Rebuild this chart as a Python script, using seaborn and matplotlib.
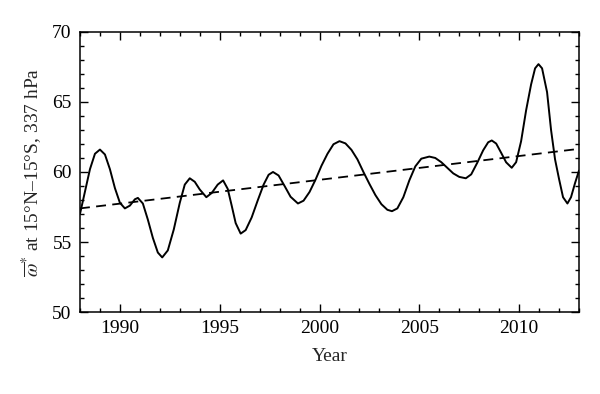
import numpy as np
import pandas as pd
import seaborn as sns
import matplotlib.pyplot as plt
from matplotlib.ticker import MultipleLocator

# values
years = [1988.0, 1988.25, 1988.5, 1988.75, 1989.0, 1989.25, 1989.5, 1989.75, 1990.0, 1990.25,
         1990.5, 1990.75, 1990.9, 1991.15, 1991.4, 1991.65, 1991.9, 1992.12, 1992.4, 1992.7,
         1993.0, 1993.25, 1993.5, 1993.75, 1994.0, 1994.33, 1994.6, 1994.9, 1995.17, 1995.4,
         1995.6, 1995.8, 1996.05, 1996.3, 1996.6, 1996.9, 1997.2, 1997.45, 1997.67, 1997.95,
         1998.25, 1998.55, 1998.92, 1999.2, 1999.5, 1999.8, 2000.1, 2000.4, 2000.7, 2001.0,
         2001.3, 2001.6, 2001.9, 2002.2, 2002.5, 2002.8, 2003.1, 2003.4, 2003.63, 2003.9,
         2004.2, 2004.5, 2004.8, 2005.1, 2005.5, 2005.8, 2006.1, 2006.4, 2006.7, 2007.0,
         2007.33, 2007.6, 2007.9, 2008.2, 2008.45, 2008.63, 2008.85, 2009.1, 2009.35, 2009.63,
         2009.85, 2010.1, 2010.35, 2010.6, 2010.8, 2010.97, 2011.15, 2011.4, 2011.6, 2011.8,
         2012.0, 2012.2, 2012.42, 2012.6, 2012.8, 2013.0]
omega = [57.0, 58.6, 60.2, 61.3, 61.6, 61.25, 60.2, 58.85, 57.8, 57.4,
         57.6, 58.05, 58.15, 57.75, 56.6, 55.3, 54.25, 53.9, 54.4, 55.9,
         57.8, 59.1, 59.55, 59.3, 58.75, 58.2, 58.5, 59.1, 59.4, 58.8,
         57.6, 56.35, 55.6, 55.85, 56.75, 57.95, 59.1, 59.8, 60.0, 59.75,
         59.0, 58.23, 57.75, 57.95, 58.57, 59.45, 60.45, 61.3, 61.98, 62.2,
         62.04, 61.58, 60.9, 60.0, 59.15, 58.35, 57.7, 57.3, 57.2, 57.4,
         58.2, 59.4, 60.4, 60.95, 61.1, 61.0, 60.7, 60.3, 59.9, 59.65,
         59.55, 59.83, 60.65, 61.55, 62.12, 62.25, 62.03, 61.37, 60.69, 60.3,
         60.7, 62.2, 64.4, 66.25, 67.4, 67.7, 67.4, 65.7, 63.0, 60.9,
         59.5, 58.2, 57.75, 58.2, 59.2, 60.1]

trend_years = [1988.0, 2013.0]
trend_values = [57.4, 61.65]

df = pd.DataFrame({'year': years, 'omega': omega})
trend = pd.DataFrame({'year': trend_years, 'omega': trend_values})

sns.set_style('ticks')
plt.rcParams['font.family'] = ['Liberation Serif', 'DejaVu Serif']
plt.rcParams['mathtext.fontset'] = 'stix'

fig = plt.figure(figsize=(6.0, 3.94), dpi=100)
ax = fig.add_axes([0.1333, 0.208, 0.8317, 0.711])

sns.lineplot(data=df, x='year', y='omega', color='black', linewidth=1.4, ax=ax)
sns.lineplot(data=trend, x='year', y='omega', color='black', linewidth=1.3,
             linestyle=(0, (5.5, 3.5)), ax=ax)

ax.set_xlim(1988, 2013)
ax.set_ylim(50, 70)
ax.xaxis.set_major_locator(MultipleLocator(5))
ax.xaxis.set_minor_locator(MultipleLocator(1))
ax.yaxis.set_major_locator(MultipleLocator(5))
ax.yaxis.set_minor_locator(MultipleLocator(1))
ax.tick_params(which='both', direction='in', top=True, right=True,
               labelsize=14, width=1.0, colors='black')
ax.tick_params(which='major', length=5.5, pad=6)
ax.tick_params(which='minor', length=3)
for s in ax.spines.values():
    s.set_linewidth(1.1)
    s.set_color('black')

ax.set_xlabel('Year', fontsize=14, labelpad=8)
ax.set_ylabel(r'$\overline{\omega}^{*}$ at 15°N–15°S, 337 hPa', fontsize=14, labelpad=6)

fig.savefig('out.png', dpi=100)
